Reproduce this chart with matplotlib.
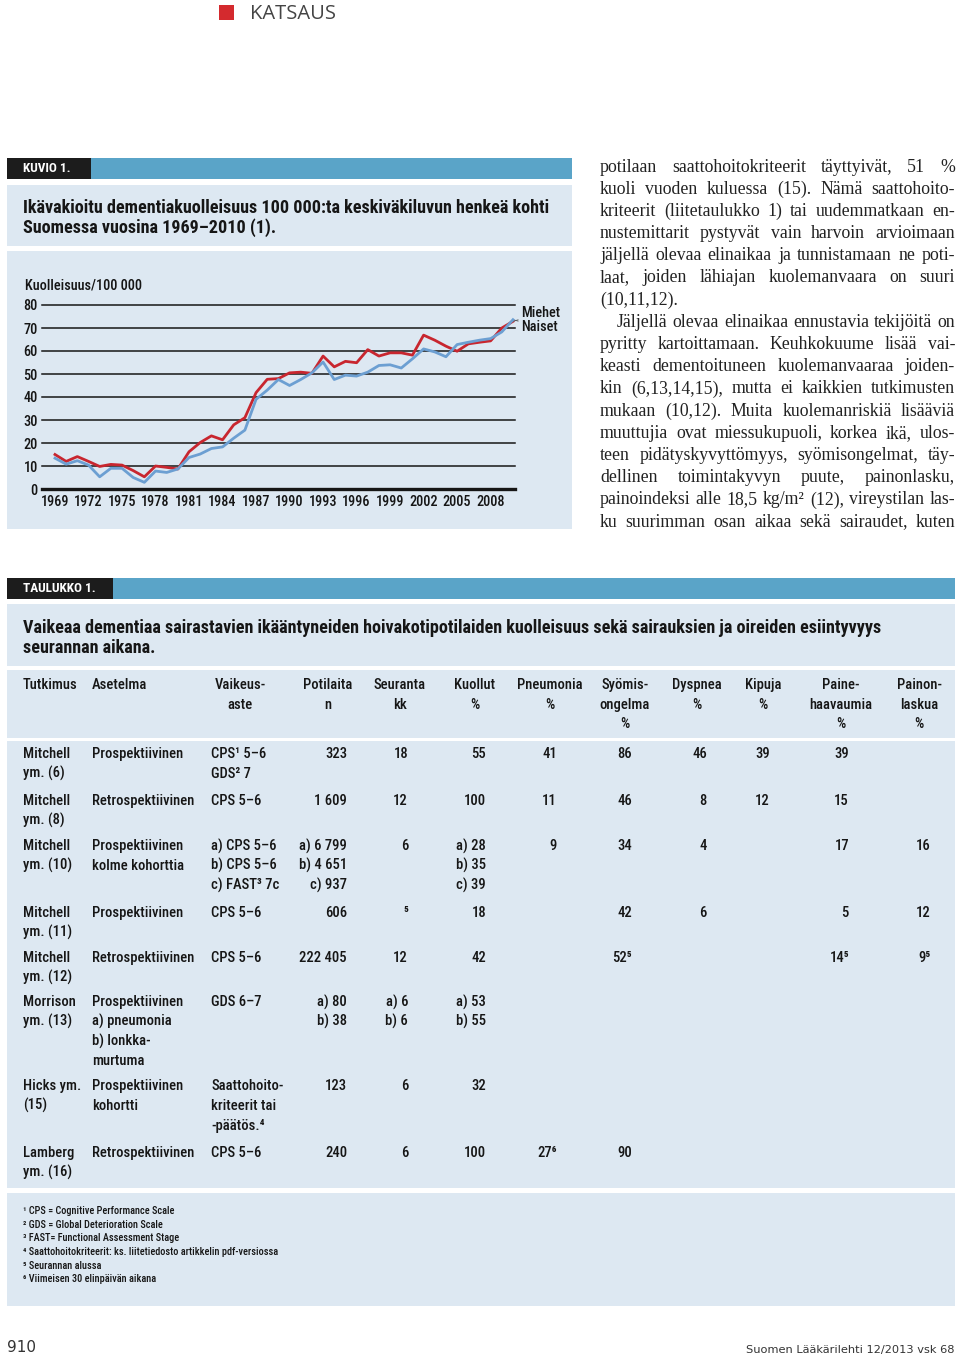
import matplotlib
matplotlib.use('Agg')
import matplotlib.pyplot as plt
from matplotlib.patches import Rectangle
from matplotlib import font_manager

# --- chart data ---
years = list(range(1969, 2011))
miehet = [15.0, 12.0, 14.1, 12.0, 9.8, 10.7, 10.4, 8.0, 5.3, 10.0, 9.4, 8.7,
          16.2, 20.2, 23.1, 21.4, 27.9, 31.0, 41.9, 47.7, 48.0, 50.5, 50.8, 50.3,
          57.8, 53.1, 55.5, 54.9, 60.6, 57.8, 59.2, 59.2, 58.2, 66.9, 64.7, 62.1,
          59.9, 63.1, 63.8, 64.4, 70.0, 72.9]
naiset = [13.4, 10.8, 12.3, 10.4, 5.3, 9.0, 9.0, 5.0, 2.9, 7.8, 7.2, 8.7,
          13.7, 15.2, 17.6, 18.3, 22.1, 25.6, 39.0, 43.0, 47.6, 45.0, 47.6, 50.5,
          55.2, 47.6, 49.5, 49.1, 50.8, 53.7, 54.0, 52.6, 56.6, 60.9, 59.6, 57.5,
          62.8, 63.8, 64.7, 65.4, 68.3, 73.6]
year_ticks = list(range(1969, 2010, 3))
value_ticks = [0, 10, 20, 30, 40, 50, 60, 70, 80]

chart_title = ["Ikävakioitu dementiakuolleisuus 100 000:ta keskiväkiluvun henkeä kohti",
               "Suomessa vuosina 1969–2010 (1)."]

body_lines = [
    "potilaan saattohoitokriteerit täyttyivät, 51 %",
    "kuoli vuoden kuluessa (15). Nämä saattohoito-",
    "kriteerit (liitetaulukko 1) tai uudemmatkaan en-",
    "nustemittarit pystyvät vain harvoin arvioimaan",
    "jäljellä olevaa elinaikaa ja tunnistamaan ne poti-",
    "laat, joiden lähiajan kuolemanvaara on suuri",
    "(10,11,12).",
    "Jäljellä olevaa elinaikaa ennustavia tekijöitä on",
    "pyritty kartoittamaan. Keuhkokuume lisää vai-",
    "keasti dementoituneen kuolemanvaaraa joiden-",
    "kin (6,13,14,15), mutta ei kaikkien tutkimusten",
    "mukaan (10,12). Muita kuolemanriskiä lisääviä",
    "muuttujia ovat miessukupuoli, korkea ikä, ulos-",
    "teen pidätyskyvyttömyys, syömisongelmat, täy-",
    "dellinen toimintakyvyn puute, painonlasku,",
    "painoindeksi alle 18,5 kg/m² (12), vireystilan las-",
    "ku suurimman osan aikaa sekä sairaudet, kuten",
]

# --- table data ---
table_title = ["Vaikeaa dementiaa sairastavien ikääntyneiden hoivakotipotilaiden kuolleisuus sekä sairauksien ja oireiden esiintyvyys",
               "seurannan aikana."]
headers = ["Tutkimus", "Asetelma", "Vaikeus-\naste", "Potilaita\nn", "Seuranta\nkk",
           "Kuollut\n%", "Pneumonia\n%", "Syömis-\nongelma\n%", "Dyspnea\n%",
           "Kipuja\n%", "Paine-\nhaavaumia\n%", "Painon-\nlaskua\n%"]
rows = [
    ["Mitchell\nym. (6)", "Prospektiivinen", "CPS¹ 5–6\nGDS² 7", "323", "18", "55", "41", "86", "46", "39", "39", ""],
    ["Mitchell\nym. (8)", "Retrospektiivinen", "CPS 5–6", "1 609", "12", "100", "11", "46", "8", "12", "15", ""],
    ["Mitchell\nym. (10)", "Prospektiivinen\nkolme kohorttia", "a) CPS 5–6\nb) CPS 5–6\nc) FAST³ 7c",
     "a) 6 799\nb) 4 651\nc) 937", "6", "a) 28\nb) 35\nc) 39", "9", "34", "4", "", "17", "16"],
    ["Mitchell\nym. (11)", "Prospektiivinen", "CPS 5–6", "606", "⁵", "18", "", "42", "6", "", "5", "12"],
    ["Mitchell\nym. (12)", "Retrospektiivinen", "CPS 5–6", "222 405", "12", "42", "", "52⁵", "", "", "14⁵", "9⁵"],
    ["Morrison\nym. (13)", "Prospektiivinen\na) pneumonia\nb) lonkka-\nmurtuma", "GDS 6–7",
     "a) 80\nb) 38", "a) 6\nb) 6", "a) 53\nb) 55", "", "", "", "", "", ""],
    ["Hicks ym.\n(15)", "Prospektiivinen\nkohortti", "Saattohoito-\nkriteerit tai\n-päätös.⁴",
     "123", "6", "32", "", "", "", "", "", ""],
    ["Lamberg\nym. (16)", "Retrospektiivinen", "CPS 5–6", "240", "6", "100", "27⁶", "90", "", "", "", ""],
]
footnotes = ["¹ CPS = Cognitive Performance Scale",
             "² GDS = Global Deterioration Scale",
             "³ FAST= Functional Assessment Stage",
             "⁴ Saattohoitokriteerit: ks. liitetiedosto artikkelin pdf-versiossa",
             "⁵ Seurannan alussa",
             "⁶ Viimeisen 30 elinpäivän aikana"]


def pick_narrow():
    fl = font_manager.fontManager.ttflist
    for name in ['Liberation Sans Narrow', 'Roboto Condensed', 'Noto Sans Condensed',
                 'Open Sans Condensed', 'DejaVu Sans Condensed']:
        if any(f.name == name for f in fl):
            return name, 'normal'
    for name in ['Noto Sans', 'DejaVu Sans', 'Open Sans', 'Roboto', 'Liberation Sans']:
        if any(f.name == name and f.stretch in ('condensed', 'semi-condensed', 'extra-condensed')
               for f in fl):
            return name, 'condensed'
    return 'Roboto', 'normal'


narrow_name, narrow_stretch = pick_narrow()

# --- layout / style ---
W, H = 960, 1356
NARROW = [narrow_name, 'DejaVu Sans']
SERIF = ['Liberation Serif', 'DejaVu Serif']
BLUE_BAR = '#5aa4c8'
PANEL = '#dde8f2'
RED = '#c8262f'
LBLUE = '#6c9fd2'
INK = '#161616'
MED = 'medium'

fig = plt.figure(figsize=(W / 100, H / 100), dpi=100)
fig.patch.set_facecolor('white')
renderer = fig.canvas.get_renderer()


def fx(x):
    return x / W


def fy(y):
    return 1 - y / H


def box(x0, y0, x1, y1, color):
    fig.patches.append(Rectangle((fx(x0), fy(y1)), (x1 - x0) / W, (y1 - y0) / H,
                                 transform=fig.transFigure, facecolor=color,
                                 edgecolor='none', zorder=-1))


def txt(x, y, s, **kw):
    kw.setdefault('va', 'center')
    kw.setdefault('family', NARROW)
    if kw['family'] is NARROW:
        kw.setdefault('fontstretch', narrow_stretch)
    kw.setdefault('color', INK)
    return fig.text(fx(x), fy(y), s, **kw)


def width_of(s, **kw):
    t = txt(0, -100, s, **kw)
    w = t.get_window_extent(renderer).width
    t.remove()
    return w


def fit(s, target, **kw):
    return 10 * target / width_of(s, fontsize=10, **kw)


title_size = fit(chart_title[0], 530, weight='bold')
cell_size = fit("Retrospektiivinen", 101, weight=MED)
tick_size = fit("1969 1972", 60, weight=MED)
note_size = fit(footnotes[3], 253, weight=MED)
bar_size = fit("TAULUKKO 1.", 73, weight='bold')

# page header
box(219, 5, 234, 20, '#d42a2e')
txt(250, 14, "KATSAUS", family=['Open Sans', 'DejaVu Sans'], fontsize=14.5, color='#444444')

# figure panels
box(7, 158, 91, 179, '#1c1c1c')
box(91, 158, 572, 179, BLUE_BAR)
txt(23, 169, "KUVIO 1.", color='white', fontsize=bar_size, weight='bold')
box(7, 185, 572, 246, PANEL)
box(7, 251, 572, 529, PANEL)
for i, line in enumerate(chart_title):
    txt(23, 208 + i * 20, line, fontsize=title_size, weight='bold')
txt(25, 286, "Kuolleisuus/100 000", fontsize=tick_size, weight=MED)

# chart
ax = fig.add_axes([fx(42), fy(489), 473 / W, (489 - 305) / H])
ax.set_zorder(2)
ax.patch.set_visible(False)
ax.set_xlim(1969 - 13 / 11.17, 1969 + (515 - 55) / 11.17)
ax.set_ylim(0, 80)
for v in value_ticks:
    ax.axhline(v, color=INK, lw=2.4 if v == 0 else 1.1, zorder=1, clip_on=False)
ax.plot(years, miehet, color=RED, lw=2.0, zorder=3, clip_on=False)
ax.plot(years, naiset, color=LBLUE, lw=2.0, zorder=4, clip_on=False)
ax.set_yticks(value_ticks)
ax.set_xticks(year_ticks)
ax.tick_params(length=0, labelsize=tick_size, colors=INK)
ax.tick_params(axis='y', pad=3)
ax.tick_params(axis='x', pad=4)
for lab in ax.get_xticklabels() + ax.get_yticklabels():
    lab.set_family(NARROW)
    lab.set_fontstretch(narrow_stretch)
    lab.set_weight(MED)
for s in ax.spines.values():
    s.set_visible(False)
for name, series, dy in [("Miehet", miehet, 8), ("Naiset", naiset, -7)]:
    ax.annotate(name, xy=(years[-1], series[-1]), xytext=(8, dy), textcoords='offset pixels',
                va='center', ha='left', fontsize=tick_size, family=NARROW,
                fontstretch=narrow_stretch, weight=MED, color=INK,
                arrowprops=dict(arrowstyle='-', color='#555555', lw=0.6, shrinkA=0, shrinkB=0),
                annotation_clip=False)

# right-hand justified body text
serif_size = min(10 * 350 / width_of(l, family=SERIF, fontsize=10) for l in body_lines
                 if l != body_lines[6])
space_w = width_of("n n", family=SERIF, fontsize=serif_size) - width_of("nn", family=SERIF, fontsize=serif_size)


def justified(line, y, x0=600, x1=955, indent=0, last=False):
    words = line.split()
    ts = [txt(0, y, w, family=SERIF, fontsize=serif_size, color='#222222') for w in words]
    ws = [t.get_window_extent(renderer).width for t in ts]
    left = x0 + indent
    gap = space_w
    if not last and len(words) > 1:
        gap = (x1 - left - sum(ws)) / (len(words) - 1)
    x = left
    for t, w in zip(ts, ws):
        t.set_x(fx(x))
        x += w + gap


for i, line in enumerate(body_lines):
    justified(line, 167 + i * 22.19, indent=17 if i == 7 else 0, last=(i == 6))

# table panels
box(7, 578, 113, 599, '#1c1c1c')
box(113, 578, 955, 599, BLUE_BAR)
txt(23, 589, "TAULUKKO 1.", color='white', fontsize=bar_size, weight='bold')
box(7, 604, 955, 666, PANEL)
box(7, 670, 955, 738, PANEL)
box(7, 741, 955, 1188, PANEL)
box(7, 1193, 955, 1306, PANEL)
for i, line in enumerate(table_title):
    txt(23, 628 + i * 20, line, fontsize=title_size, weight='bold')

head_x = [23, 92, 240, 328, 400, 475, 550, 625, 697, 763, 841, 919]
head_ha = ['left', 'left'] + ['center'] * 10
for x, ha, h in zip(head_x, head_ha, headers):
    for j, part in enumerate(h.split('\n')):
        txt(x, 685 + j * 19.6, part, ha=ha, fontsize=cell_size, weight=MED)

col_x = [23, 92, 211, 347, 408, 486, 557, 632, 707, 770, 849, 931]
col_ha = ['left', 'left', 'left'] + ['right'] * 9
row_y = [754, 801, 846, 913, 958, 1002, 1086, 1153]
for ry, row in zip(row_y, rows):
    for x, ha, cell in zip(col_x, col_ha, row):
        if not cell:
            continue
        for j, part in enumerate(cell.split('\n')):
            txt(x, ry + j * 19.8, part, ha=ha, fontsize=cell_size, weight=MED)

for i, note in enumerate(footnotes):
    txt(23, 1211 + i * 13.7, note, fontsize=note_size, weight=MED)

# page footer
txt(7, 1348, "910", family=['DejaVu Sans'], fontsize=11, color='#333333')
txt(955, 1350, "Suomen Lääkärilehti 12/2013 vsk 68", family=['DejaVu Sans'], fontsize=8.2,
    color='#333333', ha='right')

fig.savefig('out.png', dpi=100, facecolor='white')
